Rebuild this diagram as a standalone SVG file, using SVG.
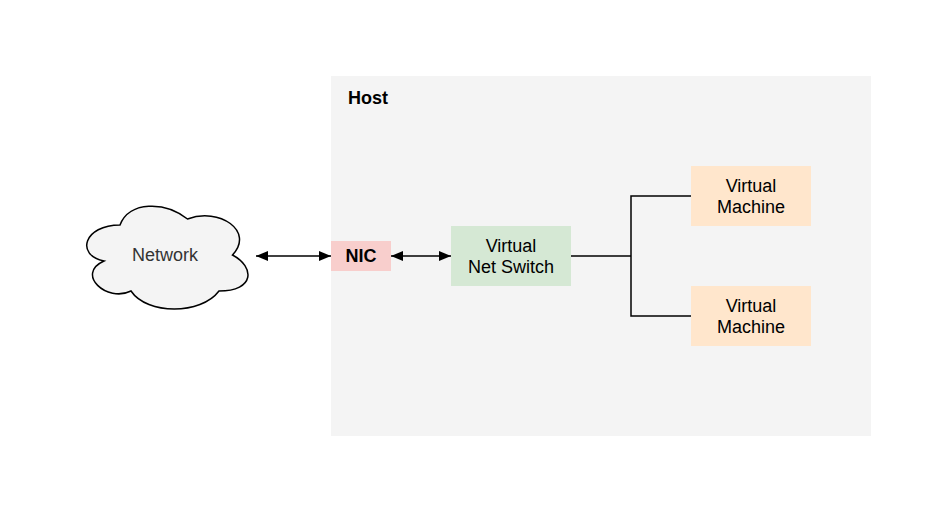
<svg xmlns="http://www.w3.org/2000/svg" width="947" height="510" viewBox="0 0 947 510">
<style>
.lbl{font-family:"Liberation Sans",Arial,sans-serif;font-size:18px;fill:#000;text-anchor:middle}
.b{font-weight:bold}
.ln{fill:none;stroke:#000;stroke-width:1.5}
</style>
<defs>
<marker id="ah" viewBox="0 0 12 10" refX="12" refY="5" markerWidth="12" markerHeight="10" markerUnits="userSpaceOnUse" orient="auto-start-reverse">
<path d="M0,0 L12,5 L0,10 Z" fill="#000"/>
</marker>
</defs>
<rect width="947" height="510" fill="#fff"/>
<g id="host">
<rect x="331" y="76" width="540" height="360" fill="#f4f4f4"/>
<text class="lbl b" x="348" y="104" style="text-anchor:start">Host</text>
</g>
<g id="network">
<path d="M120,225 C84,225 75,255 104,261 C75,274 107,303 131,291 C147,315 201,315 219,291 C255,291 255,267 232.5,255 C255,231 219,207 187.5,219 C165,201 129,201 120,225 Z" fill="#f4f4f4" stroke="#000" stroke-width="1.5"/>
<text class="lbl" x="165" y="261" fill="#333" style="fill:#333">Network</text>
</g>
<g id="nic">
<rect x="331" y="241" width="60" height="30" fill="#f8cecc"/>
<text class="lbl b" x="361" y="262">NIC</text>
</g>
<g id="switch">
<rect x="451" y="226" width="120" height="60" fill="#d5e8d4"/>
<text class="lbl" x="511" y="251.5">Virtual</text>
<text class="lbl" x="511" y="273">Net Switch</text>
</g>
<g id="vm1">
<rect x="691" y="166" width="120" height="60" fill="#ffe6cc"/>
<text class="lbl" x="751" y="191.5">Virtual</text>
<text class="lbl" x="751" y="213">Machine</text>
</g>
<g id="vm2">
<rect x="691" y="286" width="120" height="60" fill="#ffe6cc"/>
<text class="lbl" x="751" y="311.5">Virtual</text>
<text class="lbl" x="751" y="333">Machine</text>
</g>
<g id="connectors">
<path class="ln" d="M256,256 L331,256" marker-start="url(#ah)" marker-end="url(#ah)"/>
<path class="ln" d="M391,256 L451,256" marker-start="url(#ah)" marker-end="url(#ah)"/>
<path class="ln" d="M571,256 L631,256"/>
<path class="ln" d="M691,196 L631,196 L631,316 L691,316"/>
</g>
</svg>
